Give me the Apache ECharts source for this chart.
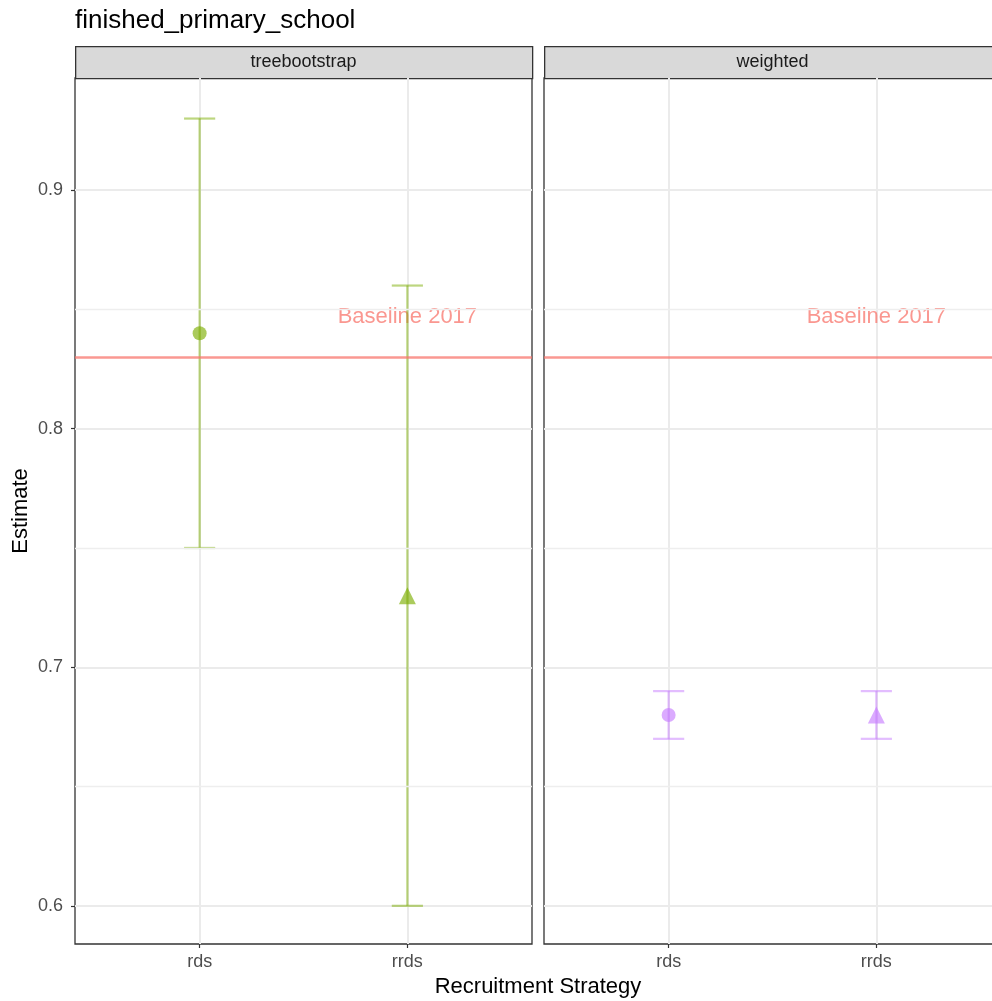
<!DOCTYPE html>
<html>
<head>
<meta charset="utf-8">
<script src="https://cdn.jsdelivr.net/npm/echarts@6/dist/echarts.min.js"></script>
<style>
  html, body { margin: 0; padding: 0; background: #fff; }
  #chart { width: 992px; height: 1001px; }
</style>
</head>
<body>
<div id="chart"></div>
<script>
// data
const panels = ['treebootstrap', 'weighted']
const strategies = ['rds', 'rrds']
const treeEst = [0.84, 0.73]
const treeLow = [0.75, 0.60]
const treeHigh = [0.93, 0.86]
const weightedEst = [0.68, 0.68]
const weightedLow = [0.67, 0.67]
const weightedHigh = [0.69, 0.69]
const baseline = 0.831
const baselineLabel = 'Baseline 2017'
const yTicks = [0.6, 0.7, 0.8, 0.9]
const yMinor = [0.65, 0.75, 0.85]

const FONT = '"Liberation Sans", Arial, sans-serif'
const green = 'rgba(124,174,0,0.8)'
const greenBar = 'rgba(124,174,0,0.5)'
const purple = 'rgba(199,124,255,0.8)'
const purpleBar = 'rgba(199,124,255,0.5)'
const red = 'rgba(248,118,109,0.75)'

const shapes = ['circle', 'triangle']
const sizes = [14, 17]

const chart = echarts.init(document.getElementById('chart'))

const gridTop = 78
const gridH = 866
const gridW = 457
const lefts = [75, 544]

function xAxisFor (i) {
  return {
    type: 'value', gridIndex: i, min: 0.4, max: 2.6,
    axisLine: { show: false },
    axisTick: { show: true, customValues: [1, 2], length: 4, lineStyle: { color: '#333', width: 1.2 } },
    axisLabel: {
      customValues: [1, 2], color: '#4D4D4D', fontSize: 18, fontFamily: FONT, margin: 9,
      formatter: v => strategies[Math.round(v) - 1] || ''
    },
    splitLine: { show: true, lineStyle: { color: '#EBEBEB', width: 2 } }
  }
}

function yAxisFor (i) {
  return {
    type: 'value', gridIndex: i, min: 0.584, max: 0.947,
    axisLine: { show: false },
    axisTick: { show: i === 0, customValues: yTicks, length: 4, lineStyle: { color: '#333', width: 1.2 } },
    axisLabel: {
      show: i === 0, customValues: yTicks, color: '#4D4D4D', fontSize: 18, fontFamily: FONT, margin: 12,
      formatter: v => v.toFixed(1)
    },
    splitLine: { show: true, lineStyle: { color: '#EBEBEB', width: 2 } }
  }
}

function errorBars (i, low, high, color) {
  return {
    type: 'custom', xAxisIndex: i, yAxisIndex: i, z: 3,
    data: strategies.map((s, k) => [k + 1, low[k], high[k]]),
    renderItem: (params, api) => {
      const x = api.value(0)
      const top = api.coord([x, api.value(2)])
      const bot = api.coord([x, api.value(1)])
      const half = api.size([0.15, 0])[0] / 2
      const style = { stroke: color, lineWidth: 2.2 }
      return {
        type: 'group',
        children: [
          { type: 'line', shape: { x1: top[0], y1: top[1], x2: bot[0], y2: bot[1] }, style },
          { type: 'line', shape: { x1: top[0] - half, y1: top[1], x2: top[0] + half, y2: top[1] }, style },
          { type: 'line', shape: { x1: bot[0] - half, y1: bot[1], x2: bot[0] + half, y2: bot[1] }, style }
        ]
      }
    }
  }
}

function points (i, est, color) {
  return {
    type: 'scatter', xAxisIndex: i, yAxisIndex: i, z: 4,
    data: est.map((v, k) => ({ value: [k + 1, v], symbol: shapes[k], symbolSize: sizes[k] })),
    itemStyle: { color: color }
  }
}

function baselineSeries (i) {
  return {
    type: 'scatter', xAxisIndex: i, yAxisIndex: i, z: 2, silent: true,
    symbolSize: 0,
    data: [[2, 0.847]],
    label: {
      show: true, position: 'inside', formatter: baselineLabel,
      color: 'rgba(248,118,109,0.95)', fontSize: 22, fontFamily: FONT
    },
    markLine: {
      silent: true, symbol: 'none', animation: false,
      label: { show: false },
      lineStyle: { color: red, width: 2.5, type: 'solid' },
      data: [{ yAxis: baseline }]
    }
  }
}

function minorLines (i) {
  return {
    type: 'line', xAxisIndex: i, yAxisIndex: i, z: 1, data: [], silent: true,
    markLine: {
      silent: true, symbol: 'none', animation: false,
      label: { show: false },
      lineStyle: { color: '#EEEEEE', width: 1.3, type: 'solid' },
      data: yMinor.map(v => ({ yAxis: v }))
    }
  }
}

const graphics = []
panels.forEach((p, i) => {
  graphics.push({
    type: 'rect', left: lefts[i], top: 46,
    shape: { width: gridW, height: 32 },
    style: { fill: '#D9D9D9', stroke: '#333', lineWidth: 1.3 }
  })
  graphics.push({
    type: 'text', x: lefts[i] + gridW / 2, y: 62,
    style: { text: p, fill: '#1A1A1A', fontSize: 18, fontFamily: FONT, align: 'center', verticalAlign: 'middle' }
  })
})
graphics.push({
  type: 'text', x: 21, y: gridTop + gridH / 2, rotation: Math.PI / 2,
  style: { text: 'Estimate', fill: '#000', fontSize: 22, fontFamily: FONT, align: 'center', verticalAlign: 'middle' }
})
graphics.push({
  type: 'text', x: (lefts[0] + lefts[1] + gridW) / 2, y: 987,
  style: { text: 'Recruitment Strategy', fill: '#000', fontSize: 22, fontFamily: FONT, align: 'center', verticalAlign: 'middle' }
})

const option = {
  backgroundColor: '#fff',
  animation: false,
  title: {
    text: 'finished_primary_school', left: 70, top: 3,
    textStyle: { fontSize: 26, fontWeight: 'normal', color: '#000', fontFamily: FONT }
  },
  grid: lefts.map(l => ({
    left: l, top: gridTop, width: gridW, height: gridH,
    outerBoundsMode: 'none', containLabel: false,
    show: true, borderColor: '#333', borderWidth: 1.3, backgroundColor: 'transparent'
  })),
  xAxis: [0, 1].map(xAxisFor),
  yAxis: [0, 1].map(yAxisFor),
  graphic: graphics,
  series: [
    minorLines(0), minorLines(1),
    baselineSeries(0), baselineSeries(1),
    errorBars(0, treeLow, treeHigh, greenBar),
    errorBars(1, weightedLow, weightedHigh, purpleBar),
    points(0, treeEst, green),
    points(1, weightedEst, purple)
  ]
}

chart.setOption(option)
</script>
</body>
</html>
